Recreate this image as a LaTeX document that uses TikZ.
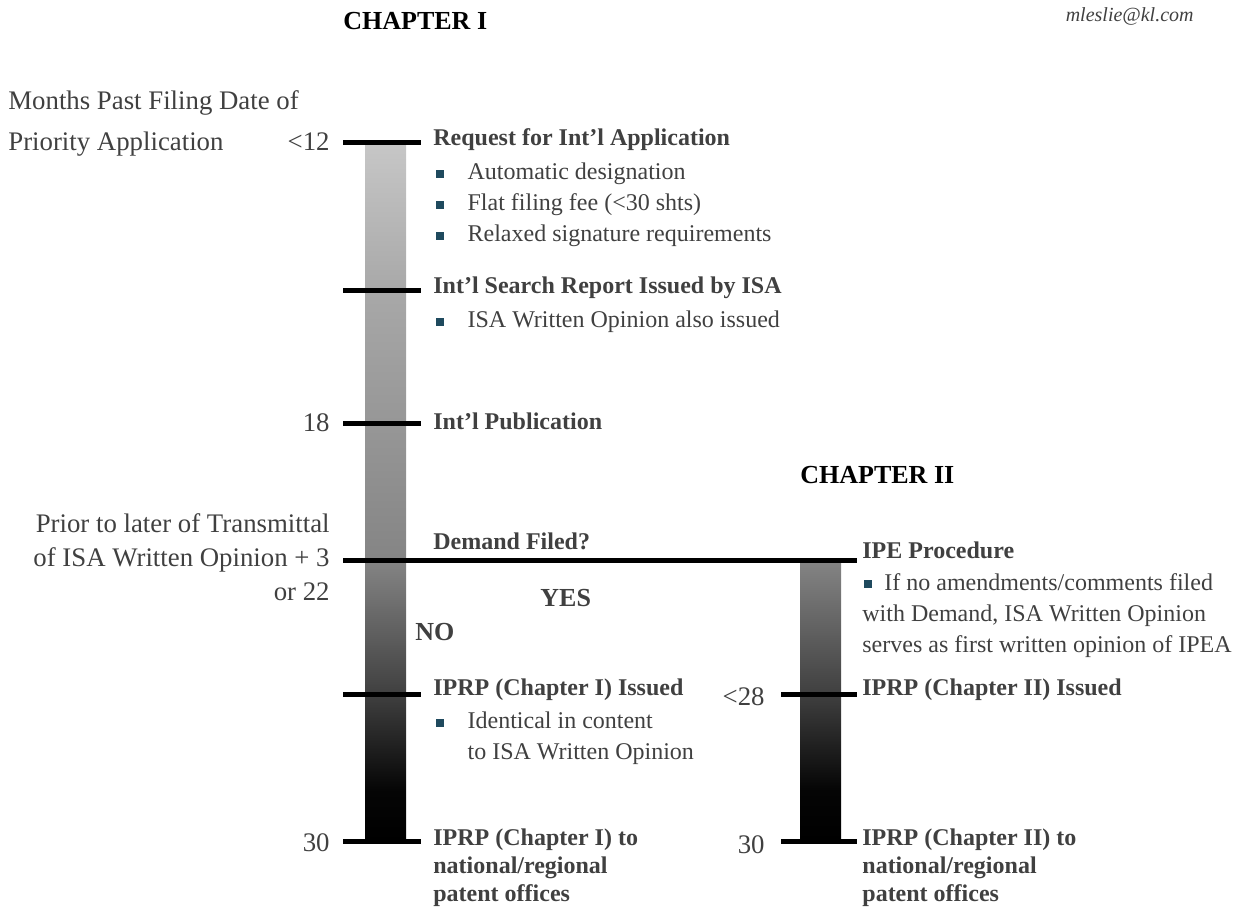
\documentclass[tikz,border=0pt]{standalone}
\usepackage{fontspec}
\setmainfont{Liberation Serif}
\usetikzlibrary{positioning}
\definecolor{txtgray}{HTML}{404040}
\definecolor{bulblue}{HTML}{1F4A5E}
% bar shadings (25bp = bottom of bar, 75bp = top of bar)
\pgfdeclareverticalshading{barone}{100bp}{color(0bp)=(black); color(25bp)=(black);
  color(28.6bp)=(black!98); color(35.5bp)=(black!75); color(45.1bp)=(black!48);
  color(64.4bp)=(black!34); color(75bp)=(black!22); color(100bp)=(black!22)}
\pgfdeclareverticalshading{bartwo}{100bp}{color(0bp)=(black); color(25bp)=(black);
  color(34.1bp)=(black!98); color(51.2bp)=(black!75); color(75bp)=(black!48);
  color(100bp)=(black!48)}

\begin{document}
\begin{tikzpicture}[x=0.5pt,y=-0.5pt,
    lbl/.style={inner sep=0pt,text=txtgray,font=\fontsize{13.4}{20.5}\selectfont},
    num/.style={lbl,anchor=east},
    head/.style={inner sep=0pt,text=txtgray,anchor=west,align=left,
      font=\fontsize{12}{14}\selectfont\bfseries},
    item/.style={inner sep=0pt,text=txtgray,anchor=west,align=left,
      font=\fontsize{12}{15.5}\selectfont},
    chap/.style={inner sep=0pt,anchor=west,font=\fontsize{13}{15}\selectfont\bfseries},
    bul/.style={fill=bulblue,minimum size=3.8pt,inner sep=0pt},
    tick/.style={line width=2.5pt}]

  \useasboundingbox (0,0) rectangle (1254,907);

  % the two time bars
  \shade[shading=barone] (365,142) rectangle (406,841);
  \shade[shading=bartwo] (800,560) rectangle (841,841);

  % tick marks
  \coordinate (a1) at (343,142); \coordinate (b1) at (421,142);
  \coordinate (a2) at (343,290); \coordinate (b2) at (421,290);
  \coordinate (a3) at (343,423); \coordinate (b3) at (421,423);
  \coordinate (a4) at (343,560); \coordinate (b4) at (857,560);
  \coordinate (a5) at (343,694); \coordinate (b5) at (421,694);
  \coordinate (a6) at (343,841); \coordinate (b6) at (421,841);
  \coordinate (c5) at (781,694); \coordinate (d5) at (857,694);
  \coordinate (c6) at (781,841); \coordinate (d6) at (857,841);
  \foreach \i in {1,...,6} \draw[tick] (a\i) -- (b\i);
  \draw[tick] (c5) -- (d5);
  \draw[tick] (c6) -- (d6);

  % titles
  \node[chap] (ch1) at (343,21) {CHAPTER I};
  \node[chap] (ch2) at (800,475) {CHAPTER II};
  \node[inner sep=0pt,anchor=east,text=txtgray,
    font=\fontsize{10}{12}\selectfont\itshape] (mail) at (1194,16) {mleslie@kl.com};

  % months
  \node[lbl,anchor=north west,align=left] (axis) at (8,90)
    {Months Past Filing Date of\\Priority Application};
  \node[num] (m12) at (330,142) {<12};
  \node[num] (m18) at (330,423) {18};
  \node[lbl,anchor=north east,align=right,font=\fontsize{13.4}{17}\selectfont]
    (m22) at (330,513) {Prior to later of Transmittal\\of ISA Written Opinion + 3\\or 22};
  \node[num] (m28) at (765,697) {<28};
  \node[num] (m30a) at (330,843) {30};
  \node[num] (m30b) at (765,845) {30};

  % chapter I events
  \node[head] (req) at (433,140) {Request for Int’l Application};
  \node[bul] (q1) at (440,174) {};
  \node[item,right=11.5pt of q1] {Automatic designation};
  \node[bul] (q2) at (440,205) {};
  \node[item,right=11.5pt of q2] {Flat filing fee (<30 shts)};
  \node[bul] (q3) at (440,236) {};
  \node[item,right=11.5pt of q3] {Relaxed signature requirements};

  \node[head] (isr) at (433,288) {Int’l Search Report Issued by ISA};
  \node[bul] (s1) at (440,322) {};
  \node[item,right=11.5pt of s1] {ISA Written Opinion also issued};

  \node[head] (pub) at (433,421) {Int’l Publication};
  \node[head] (dem) at (433,541) {Demand Filed?};
  \node[head,font=\fontsize{13}{15}\selectfont\bfseries] (yes) at (540,598) {YES};
  \node[head,font=\fontsize{13}{15}\selectfont\bfseries] (no) at (415,632) {NO};

  \node[head] (ip1) at (433,690) {IPRP (Chapter I) Issued};
  \node[bul] (i1) at (440,723) {};
  \node[item,anchor=north west,right=11.5pt of i1,yshift=-7.5pt]
    {Identical in content\\to ISA Written Opinion};
  \node[head,anchor=north west] (nat1) at (433,828)
    {IPRP (Chapter I) to\\national/regional\\patent offices};

  % chapter II events
  \node[head] (ipe) at (862,550) {IPE Procedure};
  \node[bul] (p1) at (868,584) {};
  \node[item,anchor=north west] (ipetxt) at (862,573)
    {\hspace*{11pt}If no amendments/comments filed\\with Demand, ISA Written Opinion\\serves as first written opinion of IPEA};
  \node[head] (ip2) at (862,690) {IPRP (Chapter II) Issued};
  \node[head,anchor=north west] (nat2) at (862,828)
    {IPRP (Chapter II) to\\national/regional\\patent offices};
\end{tikzpicture}
\end{document}
